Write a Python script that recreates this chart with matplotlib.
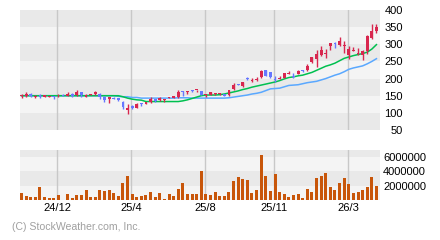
import matplotlib
matplotlib.use("Agg")
import matplotlib.pyplot as plt
import numpy as np

# weekly candles
opens = [150, 150, 156, 147, 152, 146, 147, 149, 148, 153,
         150, 156, 153, 162, 147, 151, 155, 156, 147, 139,
         144, 144, 133, 109, 121, 114, 129, 127, 132, 139,
         138, 138, 143, 143, 146, 165, 162, 167, 166, 165,
         153, 152, 154, 154, 155, 151, 169, 184, 179, 200,
         194, 197, 204, 226, 218, 198, 200, 202, 214, 208,
         214, 224, 224, 247, 258, 268, 273, 294, 304, 298,
         296, 270, 281, 271, 270, 279, 319, 340]
highs = [156, 161, 157, 151, 155, 153, 150, 150, 154, 154,
         161, 157, 166, 162, 154, 156, 163, 157, 148, 146,
         145, 144, 134, 127, 122, 128, 129, 133, 145, 139,
         145, 140, 147, 150, 166, 165, 165, 168, 168, 165,
         156, 161, 158, 158, 156, 168, 186, 185, 191, 206,
         202, 204, 226, 226, 219, 207, 208, 217, 223, 216,
         224, 225, 242, 262, 284, 294, 287, 305, 308, 322,
         311, 294, 291, 288, 284, 327, 358, 358]
lows = [144, 146, 147, 144, 142, 145, 146, 141, 145, 148,
        150, 147, 150, 145, 146, 151, 151, 141, 133, 130,
        140, 134, 112, 98, 111, 113, 119, 125, 129, 132,
        135, 132, 143, 143, 144, 150, 154, 161, 160, 152,
        146, 151, 152, 151, 148, 150, 167, 181, 175, 195,
        190, 194, 202, 207, 203, 190, 198, 201, 213, 203,
        213, 219, 223, 246, 233, 265, 260, 282, 288, 294,
        274, 257, 280, 270, 255, 272, 316, 332]
closes = [151, 155, 148, 150, 146, 152, 149, 147, 150, 149,
          155, 148, 161, 152, 153, 155, 162, 146, 138, 145,
          141, 138, 116, 115, 114, 127, 126, 131, 141, 136,
          143, 140, 147, 150, 162, 162, 165, 164, 167, 152,
          155, 161, 157, 155, 150, 167, 182, 182, 191, 198,
          196, 199, 223, 208, 204, 196, 203, 216, 216, 205,
          223, 221, 237, 262, 273, 284, 276, 304, 302, 311,
          297, 286, 283, 273, 279, 325, 340, 349]

ma_short = [150] * 22 + [147, 143, 140, 138, 137, 133, 133, 133, 133, 133,
                         133, 133, 133, 135, 138, 142, 146, 150, 152, 152,
                         152, 153, 155, 158, 161, 164, 168, 171, 175, 178,
                         181, 184, 187, 190, 194, 199, 203, 205, 208, 210,
                         214, 218, 224, 230, 236, 240, 245, 252, 259, 263,
                         267, 270, 273, 277, 286, 299]
ma_long = [150] * 21 + [148, 147, 147, 145, 145, 143, 143, 143, 143, 143,
                        143, 143, 143, 144, 144, 144, 143, 143, 143, 143,
                        143, 143, 143, 143, 144, 146, 148, 150, 152, 155,
                        157, 160, 165, 170, 171, 172, 176, 180, 181, 182,
                        185, 188, 190, 192, 196, 200, 205, 210, 214, 220,
                        227, 231, 234, 237, 243, 250, 258]

volume = [0.98, 0.56, 0.42, 0.42, 1.82, 0.42, 0.28, 0.28, 0.70, 0.0,
          0.84, 0.28, 0.70, 0.70, 1.40, 0.42, 0.42, 1.40, 1.26, 1.40,
          0.98, 0.56, 2.38, 3.36, 0.84, 0.42, 0.56, 0.70, 1.12, 0.42,
          0.98, 0.14, 0.84, 0.56, 1.54, 2.38, 0.84, 0.84, 0.84, 4.06,
          0.84, 0.70, 1.12, 0.56, 0.56, 1.12, 2.66, 3.22, 2.94, 2.80,
          0.98, 1.40, 6.30, 3.36, 1.26, 3.64, 1.12, 0.84, 0.42, 0.70,
          0.84, 0.28, 1.54, 1.12, 3.08, 3.36, 3.78, 1.82, 1.40, 2.38,
          3.08, 2.24, 0.98, 1.12, 1.40, 1.82, 3.22, 1.96]
volume = [v * 1e6 for v in volume]

month_pos = [7.77, 23.8, 39.87, 54.84, 70.9]
month_labels = ["24/12", "25/4", "25/8", "25/11", "26/3"]
price_ticks = [50, 100, 150, 200, 250, 300, 350, 400]
vol_ticks = [2000000, 4000000, 6000000]

UP = "#d8264e"
DOWN = "#6677ff"
GRID = "#c8c8c8"
DARK = "#e9e9e9"
LIGHT = "#f4f4f4"

plt.rcParams["font.family"] = ["Liberation Sans", "DejaVu Sans"]

fig = plt.figure(figsize=(4.4, 2.4), dpi=100)
ax = fig.add_axes([20 / 440, 110 / 240, 360 / 440, 120 / 240])
axv = fig.add_axes([20 / 440, 40 / 240, 360 / 440, 50 / 240])

x = np.arange(len(opens))
xlim = (-0.33, 77.77)

# price panel
for lo in range(50, 400, 50):
    ax.axhspan(lo, lo + 50, color=DARK if (lo // 50) % 2 == 1 else LIGHT, lw=0, zorder=0)
for p in month_pos:
    ax.axvline(p, color=GRID, lw=1.0, zorder=1)

ax.plot(x, ma_long, color="#5aa8ff", lw=1.1, zorder=2)
ax.plot(x, ma_short, color="#00c050", lw=1.1, zorder=2)

o = np.array(opens, float)
c = np.array(closes, float)
up = c >= o
cols = [UP if u else DOWN for u in up]
bottom = np.minimum(o, c)
height = np.maximum(np.abs(c - o), 2.5)
ax.vlines(x, lows, highs, colors=cols, lw=1.0, zorder=3)
ax.bar(x, height, bottom=bottom, width=0.62, color=cols, lw=0, zorder=4)

ax.set_xlim(*xlim)
ax.set_ylim(50, 400)
ax.set_xticks([])
ax.yaxis.tick_right()
ax.set_yticks(price_ticks)
ax.set_yticklabels([str(t) for t in price_ticks])
ax.tick_params(axis="y", length=0, pad=16.5, labelsize=8)
for lab in ax.get_yticklabels():
    lab.set_horizontalalignment("right")
for s in ax.spines.values():
    s.set_visible(False)

# volume panel
axv.axhspan(0, 2e6, color=LIGHT, lw=0, zorder=0)
axv.axhspan(2e6, 4e6, color=DARK, lw=0, zorder=0)
axv.axhspan(4e6, 6e6, color=LIGHT, lw=0, zorder=0)
axv.axhspan(6e6, 7e6, color=DARK, lw=0, zorder=0)
for p in month_pos:
    axv.axvline(p, color=GRID, lw=1.0, zorder=1)
axv.bar(x, volume, width=0.65, color="#c8560a", lw=0, zorder=2)
axv.set_xlim(*xlim)
axv.set_ylim(0, 7e6)
axv.yaxis.tick_right()
axv.set_yticks(vol_ticks)
axv.set_yticklabels([str(t) for t in vol_ticks])
axv.tick_params(axis="y", length=0, pad=2.2, labelsize=8)
axv.set_xticks(month_pos)
axv.set_xticklabels(month_labels)
axv.tick_params(axis="x", length=0, pad=2, labelsize=8)
for s in axv.spines.values():
    s.set_visible(False)

fig.text(12 / 440, 1 - 227 / 240, "(C) StockWeather.com, Inc.", color="#a0a0a0",
         fontsize=7.6, ha="left", va="center")

fig.savefig("out.png", dpi=100, facecolor="white")
